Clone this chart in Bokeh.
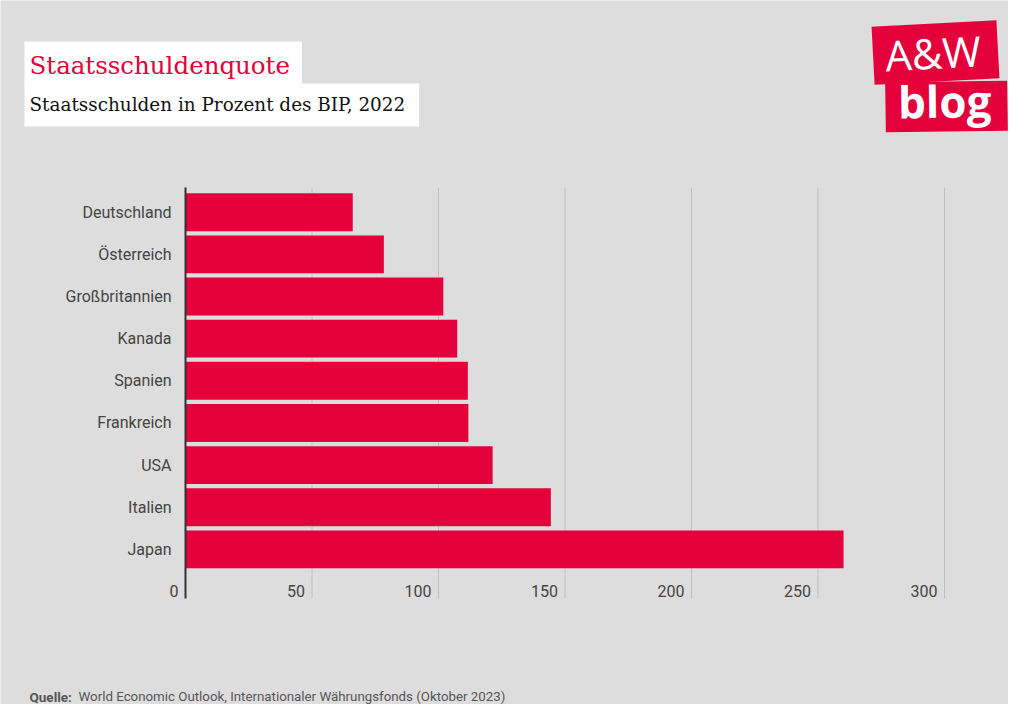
from bokeh.plotting import figure
from bokeh.models import Range1d, Label, ColumnDataSource
from bokeh.core.properties import value
from bokeh.embed import file_html
from bokeh.resources import INLINE

# ---- data ----
countries = ["Deutschland", "Österreich", "Großbritannien", "Kanada", "Spanien",
             "Frankreich", "USA", "Italien", "Japan"]
debt = [66.1, 78.4, 101.9, 107.4, 111.6, 111.8, 121.4, 144.4, 260.1]
x_ticks = [0, 50, 100, 150, 200, 250, 300]
x_tick_labels = ["0", "50", "100", "150", "200", "250", "300"]

title = "Staatsschuldenquote"
subtitle = "Staatsschulden in Prozent des BIP,  2022"
source_bold = "Quelle:"
source_text = "World Economic Outlook, Internationaler Währungsfonds (Oktober 2023)"
logo_top = "A&W"
logo_bottom = "blog"

# ---- style / layout ----
BG = "#dddddd"
RED = "#e4003a"
GRID = "#c0c0c0"
TXT = "#444444"
W, H = 1008, 704
X0, XS = 185.0, 2.53      # canvas px of value 0, px per unit
Y0, YS = 211.7, 42.15     # canvas px of first category centre, px per category
AREA_TOP, AREA_BOTTOM = 187, 598   # plot area vertical extent (canvas px)

n = len(countries)
ys = list(range(n))

p = figure(width=W, height=H,
           x_range=Range1d(-X0 / XS, (W - X0) / XS),
           y_range=Range1d((H - Y0) / YS, -Y0 / YS),
           output_backend="svg", toolbar_location=None,
           min_border=0, background_fill_color=BG, border_fill_color=BG,
           outline_line_color=None)
p.axis.visible = False
p.grid.visible = False


def dx(px):
    return (px - X0) / XS


def dy(py):
    return (py - Y0) / YS


y_top = dy(AREA_TOP)
y_bot = dy(AREA_BOTTOM)

# grid lines
grid_x = x_ticks[1:]
p.segment(x0=grid_x, x1=grid_x, y0=[y_top] * len(grid_x), y1=[y_bot] * len(grid_x),
          line_color=GRID, line_width=1)

# bars
src = ColumnDataSource(dict(y=ys, right=debt, name=countries))
p.hbar(y="y", left=0, right="right", height=0.9, source=src,
       fill_color=RED, line_color=None)

# value axis line at 0
p.segment(x0=[0], x1=[0], y0=[y_top], y1=[y_bot], line_color="#333333", line_width=2)

# category labels
p.text(x=[0] * n, y=ys, text=countries, x_offset=-14,
       text_align="right", text_baseline="middle",
       text_font=value("Roboto"), text_font_size="16px", text_color=TXT)

# x tick labels at the bottom of the plot area, left of each grid line
p.text(x=x_ticks, y=[y_bot] * len(x_ticks), text=x_tick_labels,
       x_offset=-7, y_offset=-8, text_align="right", text_baseline="middle",
       text_font=value("Roboto"), text_font_size="16px", text_color=TXT)


def lab(px, py, **kw):
    # px, py: top-left corner of the label box in canvas pixels
    p.add_layout(Label(x=px, y=H - py, x_units="screen", y_units="screen",
                       anchor="top_left", text_align="left", **kw))


# titles (white boxes)
lab(24, 41, text=title, text_font="DejaVu Serif", text_font_size="24.5px",
    text_color=RED, background_fill_color="white",
    padding=dict(left=5, right=12, top=9, bottom=7))
lab(24, 83, text=subtitle, text_font="DejaVu Serif", text_font_size="18.4px",
    text_color="#111111", background_fill_color="white",
    padding=dict(left=5, right=8, top=10, bottom=12))

# logo: two slightly tilted red boxes with white text
p.rect(x=[dx(935), dx(946)], y=[dy(52), dy(106)],
       width=[125, 122], height=[58, 50],
       width_units="screen", height_units="screen",
       angle=[0.053, 0.014], fill_color=RED, line_color=None)
lab(883, 26, text=logo_top, text_font="Open Sans", text_font_size="42px",
    text_color="white", angle=0.053)
lab(897, 71, text=logo_bottom, text_font="Open Sans", text_font_size="44px",
    text_font_style="bold", text_color="white", angle=0.014)

# source
lab(29, 688, text=source_bold, text_font="Roboto", text_font_size="13.5px",
    text_font_style="bold", text_color="#555555")
lab(78, 688, text=source_text, text_font="Roboto", text_font_size="13.3px",
    text_color="#555555")

open("out.html", "w").write(file_html(p, INLINE))
